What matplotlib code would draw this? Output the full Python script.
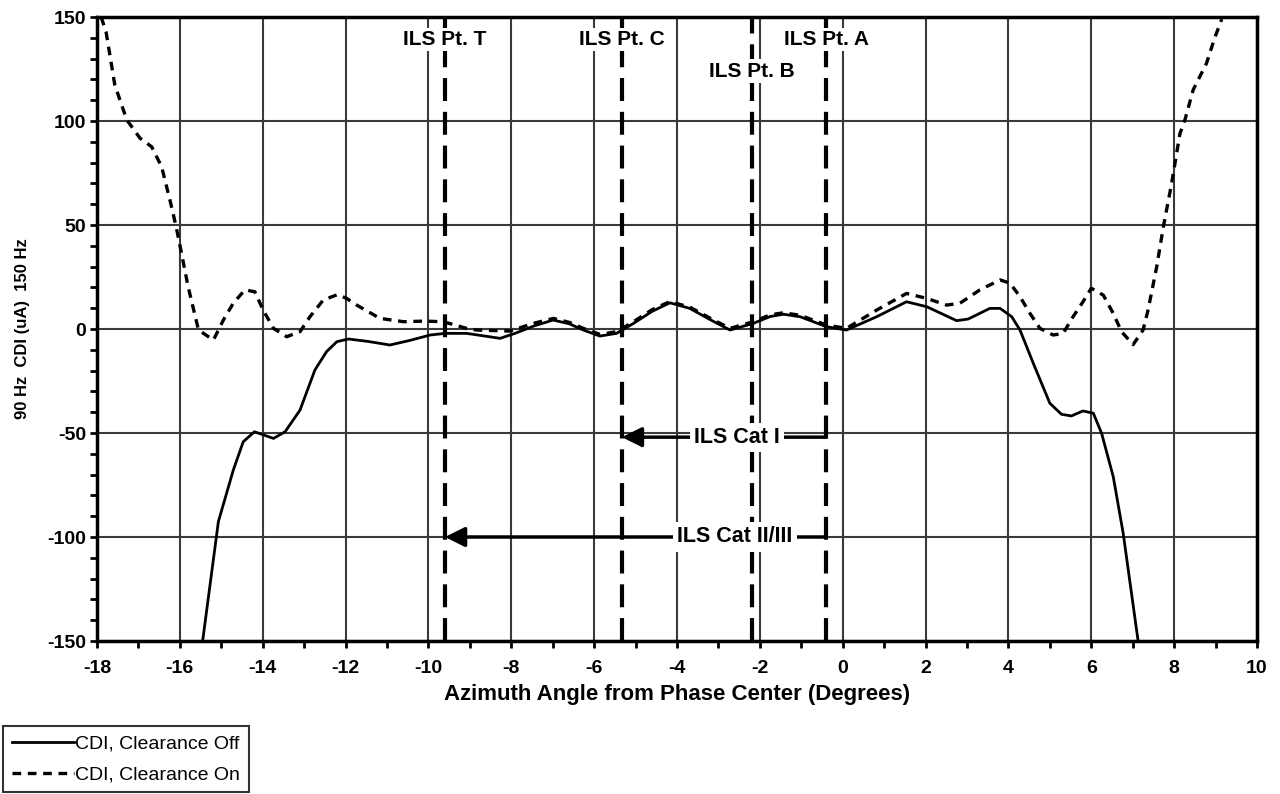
import numpy as np
import matplotlib.pyplot as plt
from matplotlib.ticker import MultipleLocator

plt.rcParams['font.family'] = ['Liberation Sans', 'DejaVu Sans']
plt.rcParams['axes.unicode_minus'] = False

# CDI with clearance off (solid)
x_off = [-15.45, -15.07, -14.71, -14.47, -14.2, -13.74, -13.46, -13.1, -12.74, -12.46,
         -12.21, -11.93, -11.45, -10.93, -10.45, -9.96, -9.6, -9.08, -8.6, -8.27,
         -7.91, -7.45, -6.99, -6.6, -6.26, -5.86, -5.46, -5.05, -4.6, -4.17,
         -3.69, -3.2, -2.72, -2.16, -1.75, -1.43, -1.03, -0.39, 0.09, 0.82,
         1.54, 2.03, 2.75, 3.03, 3.55, 3.8, 4.08, 4.28, 4.6, 5.0,
         5.28, 5.52, 5.8, 6.05, 6.25, 6.53, 6.77, 7.13]
y_off = [-150, -92.6, -67.8, -54.2, -49.4, -52.6, -49.4, -39, -19.7, -10.9,
         -6.1, -4.8, -6, -7.7, -5.5, -2.9, -2.1, -2.1, -3.5, -4.5,
         -2.1, 1.5, 4.3, 2.5, -0.5, -3.4, -2.1, 2.7, 8.5, 12.6,
         9.9, 4.5, -0.5, 2.7, 6.0, 7.1, 5.9, 1.1, -0.5, 5.9,
         13.1, 10.7, 4.0, 4.8, 9.9, 9.9, 5.9, -0.5, -16.5, -35.7,
         -41.0, -41.8, -39.4, -40.5, -50.2, -71, -98.2, -150]

# CDI with clearance on (dashed)
x_on = [-17.9, -17.78, -17.57, -17.28, -16.96, -16.68, -16.44, -16.24, -16.09, -15.96,
        -15.8, -15.55, -15.19, -14.95, -14.71, -14.43, -14.19, -13.99, -13.74, -13.42,
        -13.1, -12.86, -12.54, -12.2, -11.97, -11.81, -11.17, -10.6, -10.1, -9.64,
        -9.08, -8.84, -8.03, -7.47, -6.98, -6.6, -6.26, -5.86, -5.46, -5.05,
        -4.6, -4.17, -3.69, -3.2, -2.72, -2.16, -1.75, -1.43, -1.03, -0.39,
        0.09, 0.82, 1.54, 2.03, 2.51, 2.83, 3.31, 3.8, 4.04, 4.28,
        4.52, 4.76, 5.08, 5.32, 5.56, 5.8, 6.0, 6.29, 6.53, 6.73,
        7.01, 7.25, 7.37, 7.58, 7.74, 7.94, 8.14, 8.26, 8.46, 8.78,
        8.98, 9.15]
y_on = [150, 142.7, 117.3, 100.5, 91.7, 87.6, 78, 62, 49.2, 36.4,
        20.3, -0.5, -5.3, 4.3, 12.4, 18.8, 17.9, 9.1, 0.3, -3.7,
        -1.3, 5.9, 13.9, 16.5, 14.7, 12.4, 5.1, 3.5, 3.8, 3.5,
        0.3, -0.5, -1.0, 2.7, 5.1, 3.2, 0.3, -2.6, -1.3, 3.5,
        9.3, 13.2, 10.5, 5.2, 0.3, 3.5, 6.8, 7.8, 6.6, 1.9,
        0.3, 9.1, 17.1, 14.7, 11.5, 12.4, 18.8, 23.6, 22, 15.5,
        7.5, 0.3, -2.9, -2.1, 5.9, 13.1, 19.6, 16.3, 7.5, -1.3,
        -7.5, -0.5, 9.1, 30, 49.2, 70, 94, 100.5, 115, 127.7,
        140, 149]

# ILS reference points
pt_names = ['ILS Pt. T', 'ILS Pt. C', 'ILS Pt. B', 'ILS Pt. A']
pt_x = [-9.6, -5.33, -2.2, -0.4]
pt_label_y = [139, 139, 124, 139]

# coverage arrows
cat_labels = ['ILS Cat I', 'ILS Cat II/III']
cat_from = [-0.4, -0.4]
cat_to = [-5.33, -9.6]
cat_y = [-52, -100]
cat_text_x = [-2.56, -2.6]

fig = plt.figure(figsize=(12.8, 7.94), dpi=100)
ax = fig.add_axes([97 / 1280, 1 - 641 / 794, 1160 / 1280, 624 / 794])

ax.set_xlim(-18, 10)
ax.set_ylim(-150, 150)
ax.xaxis.set_major_locator(MultipleLocator(2))
ax.xaxis.set_minor_locator(MultipleLocator(1))
ax.yaxis.set_major_locator(MultipleLocator(50))
ax.yaxis.set_minor_locator(MultipleLocator(10))
ax.grid(True, which='major', color='#3a3a3a', lw=1.5, zorder=1)
ax.tick_params(which='both', direction='out', width=2, length=5, labelsize=14, pad=3)
ax.tick_params(axis='x', pad=9)
for lab in ax.get_xticklabels() + ax.get_yticklabels():
    lab.set_fontweight('bold')
for sp in ax.spines.values():
    sp.set_linewidth(2.5)
    sp.set_zorder(6)

l_off, = ax.plot(x_off, y_off, color='black', lw=2.0, zorder=4,
                 label='CDI, Clearance Off')
l_on, = ax.plot(x_on, y_on, color='black', lw=2.4, zorder=4,
                dashes=(2.6, 2.0), label='CDI, Clearance On')

for name, x, ly in zip(pt_names, pt_x, pt_label_y):
    ax.axvline(x, color='black', lw=3, dashes=(5.5, 2.6), zorder=3)
    ax.text(x, ly, name, ha='center', va='center', fontsize=15, fontweight='bold',
            zorder=5, bbox=dict(fc='white', ec='none', pad=1.5))

for lab, x0, x1, y, tx in zip(cat_labels, cat_from, cat_to, cat_y, cat_text_x):
    ax.annotate('', xy=(x1, y), xytext=(x0, y), zorder=5,
                arrowprops=dict(arrowstyle='-|>', color='black', lw=2.5,
                                mutation_scale=30, shrinkA=0, shrinkB=0))
    ax.text(tx, y, lab, ha='center', va='center', fontsize=15.5, fontweight='bold',
            zorder=6, bbox=dict(fc='white', ec='none', pad=3))

ax.set_xlabel('Azimuth Angle from Phase Center (Degrees)', fontsize=16,
              fontweight='bold', labelpad=5)
ax.set_ylabel('90 Hz  CDI (uA)  150 Hz', fontsize=12, fontweight='bold', labelpad=12)

leg = fig.legend(handles=[l_off, l_on], loc='upper left',
                 bbox_to_anchor=(3 / 1280, 1 - 726 / 794), fontsize=14,
                 frameon=True, fancybox=False, edgecolor='black',
                 handlelength=3.2, handletextpad=0.05, borderpad=0.45,
                 labelspacing=0.7, borderaxespad=0)
leg.get_frame().set_linewidth(1.5)

fig.savefig('out.png', dpi=100)
